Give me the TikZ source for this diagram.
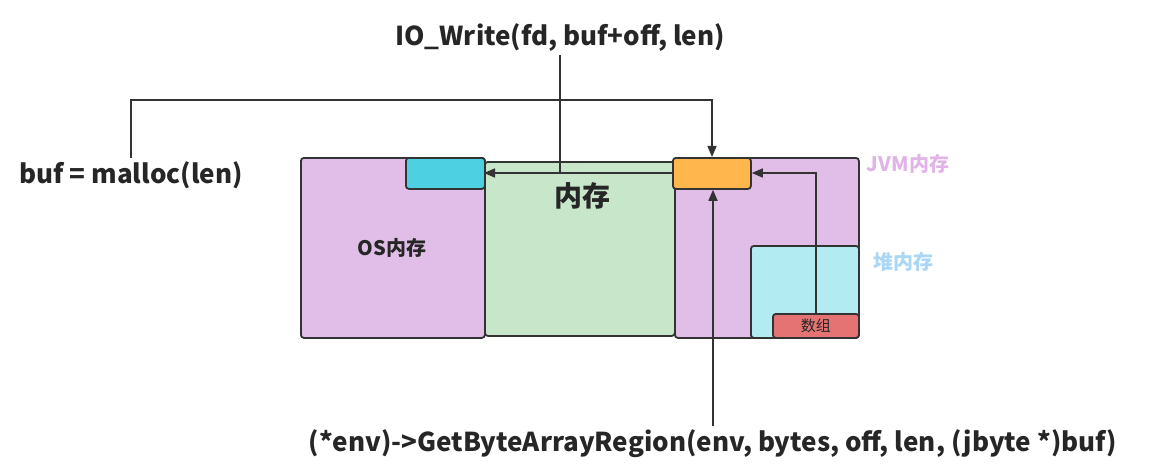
\documentclass[tikz,border=0pt]{standalone}
\usepackage{fontspec}
\setmainfont{Noto Sans CJK SC}
\usetikzlibrary{arrows.meta}
\begin{document}
\begin{tikzpicture}[x=1pt,y=-1pt,
 box/.style={draw=black!80,line width=1.8pt,rounded corners=3pt,inner sep=0,anchor=north west},
 arr/.style={draw=black!80,line width=1.6pt,-{Triangle[length=11pt,width=9pt]}},
 lbl/.style={font=\bfseries\fontsize{26}{30}\selectfont,text=black!85}]
\useasboundingbox (0,0) rectangle (1159,476);
\node[box,fill={rgb,255:red,200;green,230;blue,201},minimum width=190,minimum height=174] (mem) at (484,161) {};
\node[box,fill={rgb,255:red,225;green,190;blue,232},minimum width=184,minimum height=180] (os) at (300,157) {};
\node[box,fill={rgb,255:red,225;green,190;blue,232},minimum width=184,minimum height=180] (jvm) at (674,157) {};
\node[box,fill={rgb,255:red,77;green,208;blue,225},minimum width=79,minimum height=31] (cyan) at (405,157) {};
\node[box,fill={rgb,255:red,255;green,183;blue,77},minimum width=78,minimum height=31] (orange) at (672,157) {};
\node[box,fill={rgb,255:red,178;green,235;blue,242},minimum width=108,minimum height=92] (heap) at (750,245) {};
\node[box,fill={rgb,255:red,229;green,115;blue,115},minimum width=86,minimum height=24] (arr) at (772,313) {};
\node[font=\fontsize{15}{17}\selectfont,text=black!85] at (arr.center) {数组};
\node[font=\bfseries\fontsize{28}{32}\selectfont,text=black!85] (t1) at (582,196) {内存};
\node[font=\bfseries\fontsize{20}{22}\selectfont,text=black!85] (t2) at (392,248) {OS内存};
\node[font=\bfseries\fontsize{20}{22}\selectfont,text={rgb,255:red,225;green,180;blue,232}] (t3) at (908,164) {JVM内存};
\node[font=\bfseries\fontsize{20}{22}\selectfont,text={rgb,255:red,170;green,215;blue,245}] (t4) at (903,262) {堆内存};
\node[lbl] (io) at (560,38) {IO\_Write(fd, buf+off, len)};
\node[lbl] (mal) at (131,175) {buf = malloc(len)};
\node[lbl] (gb) at (713,444) {(*env)->GetByteArrayRegion(env, bytes, off, len, (jbyte *)buf)};
\coordinate (o1) at (672,173);
\coordinate (c1) at (484,173);
\draw[arr] (o1) -- (c1);
\draw[draw=black!80,line width=1.6pt] (io.south) -- (560,173);
\draw[arr] (mal.north) -- (131,100) -- (712,100) -- (orange.north-|712,0);
\draw[arr] (gb.north-|713,0) -- (orange.south-|713,0);
\draw[arr] (arr.north-|816,0) -- (816,173) -- (orange.east|-0,173);
\end{tikzpicture}
\end{document}
